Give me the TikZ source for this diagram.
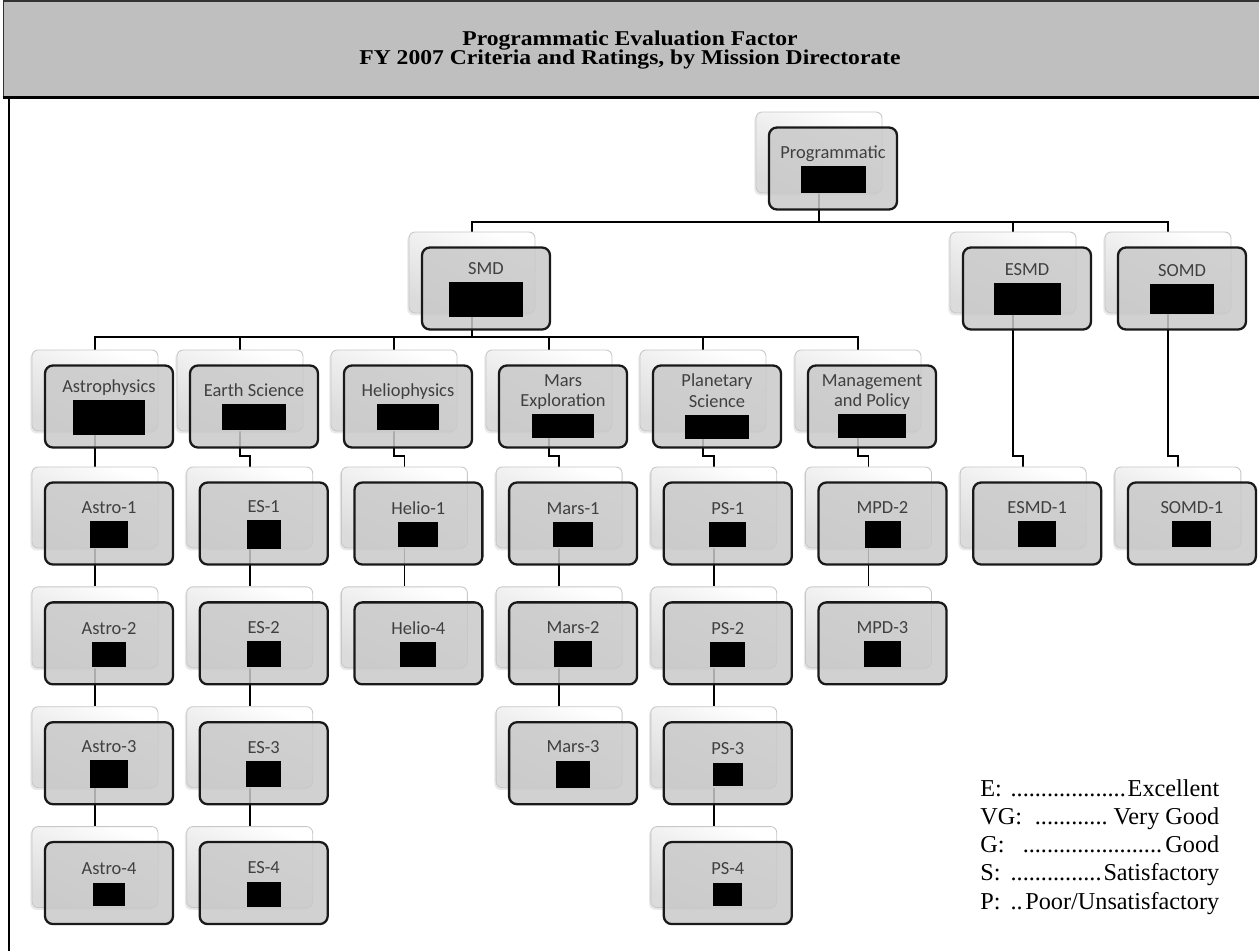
\documentclass[tikz,border=0pt]{standalone}
\usepackage{fontspec}
\setmainfont{Liberation Serif}
\newfontfamily\smartfont{Carlito}
\usetikzlibrary{positioning,shadows}

\newlength{\pxu}
\setlength{\pxu}{0.02cm}
\pgfdeclarelayer{background}
\pgfsetlayers{background,main}

% one criterion: back card, front card with name and blacked-out rating
\newcommand{\critnode}[5]{%
  \node[backbox,#2] (#1) {};
  \node[frontbox] (#1f) at ([shift={(14,16)}]#1.center) {#3\strut\\{\color{black}\rule{#4\pxu}{#5\pxu}}};
}
\newcommand{\legline}[2]{\makebox[4.78cm][l]{#1 \leaders\hbox{.}\hfill#2}}

\begin{document}
\begin{tikzpicture}[x=0.02cm,y=-0.02cm,
    backbox/.style={draw=black!22,line width=0.5pt,rounded corners=3.5pt,
      top color=white,bottom color=black!14,shading angle=-25,
      minimum width=2.52cm,minimum height=1.62cm,inner sep=0pt,
      drop shadow={shadow xshift=-1pt,shadow yshift=-1.3pt,opacity=.18}},
    frontbox/.style={draw=black!90,line width=1.3pt,rounded corners=4.5pt,
      fill=black!21,fill opacity=.85,text opacity=1,text=black!75,
      minimum width=2.56cm,minimum height=1.64cm,inner sep=1pt,align=center,
      font=\smartfont\fontsize{10.5}{11.5}\selectfont},
    link/.style={draw=black,line width=1pt},
    titletext/.style={anchor=base,inner sep=0pt,xscale=1.12,transform shape,
      font=\bfseries\fontsize{12}{14}\selectfont},
    legendtext/.style={align=left,inner sep=0pt,font=\fontsize{13.8}{16}\selectfont}]
  \useasboundingbox (0,0) rectangle (1259,951);

  \node[draw=black!80,line width=.6pt,fill=black!25,minimum width=25.2cm,
    minimum height=1.92cm,inner sep=0pt] (band) at (633,49) {};
  \draw[line width=1.6pt] (band.south west) -- (band.south east);
  \draw[line width=1.3pt] (9,97) -- (9,953);
  \node[titletext] (titleA) at (630,45) {Programmatic Evaluation Factor};
  \node[titletext] (titleB) at (630,64) {FY 2007 Criteria and Ratings, by Mission Directorate};

  \critnode{prog}{at={(819,152.5)}}{Programmatic}{65}{27}
  \critnode{smd}{at={(472,272.5)}}{SMD}{74}{35}
  \critnode{esmd}{at={(1013,272.5)}}{ESMD}{67}{32}
  \critnode{somd}{at={(1168,272.5)}}{SOMD}{64}{30}

  \critnode{astro}{at={(95,390.5)}}{Astrophysics}{72}{35}
  \critnode{earth}{at={(240,390.5)}}{Earth Science}{64}{26}
  \critnode{helio}{at={(394,390.5)}}{Heliophysics}{62}{26}
  \critnode{mars}{at={(549,390.5)}}{Mars\\Exploration}{62}{24}
  \critnode{plan}{at={(703,390.5)}}{Planetary\\Science}{64}{24}
  \critnode{mpd}{at={(858,390.5)}}{Management\\and Policy}{68}{24}

  \critnode{astroA}{at={(95,507.5)}}{Astro-1}{38}{27}
  \critnode{esA}{at={(249.7,507.5)}}{ES-1}{34}{29}
  \critnode{helioA}{at={(404.4,507.5)}}{Helio-1}{40}{25}
  \critnode{marsA}{at={(559.1,507.5)}}{Mars-1}{40}{25}
  \critnode{psA}{at={(713.8,507.5)}}{PS-1}{37}{25}
  \critnode{mpdA}{at={(868.5,507.5)}}{MPD-2}{36}{27}
  \critnode{esmdA}{at={(1023.2,507.5)}}{ESMD-1}{38}{26}
  \critnode{somdA}{at={(1177.9,507.5)}}{SOMD-1}{39}{26}

  \critnode{astroB}{below=0.76cm of astroA}{Astro-2}{34}{25}
  \critnode{esB}{below=0.76cm of esA}{ES-2}{34}{26}
  \critnode{helioB}{below=0.76cm of helioA}{Helio-4}{36}{25}
  \critnode{marsB}{below=0.76cm of marsA}{Mars-2}{38}{26}
  \critnode{psB}{below=0.76cm of psA}{PS-2}{35}{25}
  \critnode{mpdB}{below=0.76cm of mpdA}{MPD-3}{37}{26}

  \critnode{astroC}{below=0.76cm of astroB}{Astro-3}{38}{28}
  \critnode{esC}{below=0.76cm of esB}{ES-3}{35}{26}
  \critnode{marsC}{below=0.76cm of marsB}{Mars-3}{34}{27}
  \critnode{psC}{below=0.76cm of psB}{PS-3}{30}{23}

  \critnode{astroD}{below=0.76cm of astroC}{Astro-4}{32}{23}
  \critnode{esD}{below=0.76cm of esC}{ES-4}{34}{25}
  \critnode{psD}{below=0.76cm of psC}{PS-4}{29}{23}

  \begin{pgfonlayer}{background}
    \coordinate (busA) at (0,222);
    \coordinate (busB) at (0,337);
    \coordinate (jog) at (0,456);
    \foreach \n in {smd,esmd,somd}
      \draw[link] (prog.south) -- (prog.south |- busA) -| (\n.north);
    \foreach \n in {astro,earth,helio,mars,plan,mpd}
      \draw[link] (smd.south) -- (smd.south |- busB) -| (\n.north);
    \foreach \a/\b in {astro/astroA,earth/esA,helio/helioA,mars/marsA,plan/psA,mpd/mpdA,esmd/esmdA,somd/somdA}
      \draw[link] (\a.south) -- (\a.south |- jog) -| (\b.north);
    \foreach \a/\b in {astroA/astroB,astroB/astroC,astroC/astroD,esA/esB,esB/esC,esC/esD,helioA/helioB,marsA/marsB,marsB/marsC,psA/psB,psB/psC,psC/psD,mpdA/mpdB}
      \draw[link] (\a.south) -- (\b.north);
  \end{pgfonlayer}

  \node[legendtext,anchor=west] (legend) at (980,847) {%
    \legline{E:}{Excellent}\\
    \legline{VG:\ }{Very Good}\\
    \legline{G:\ }{Good}\\
    \legline{S:}{Satisfactory}\\
    \legline{P:}{Poor/Unsatisfactory}};
\end{tikzpicture}
\end{document}
